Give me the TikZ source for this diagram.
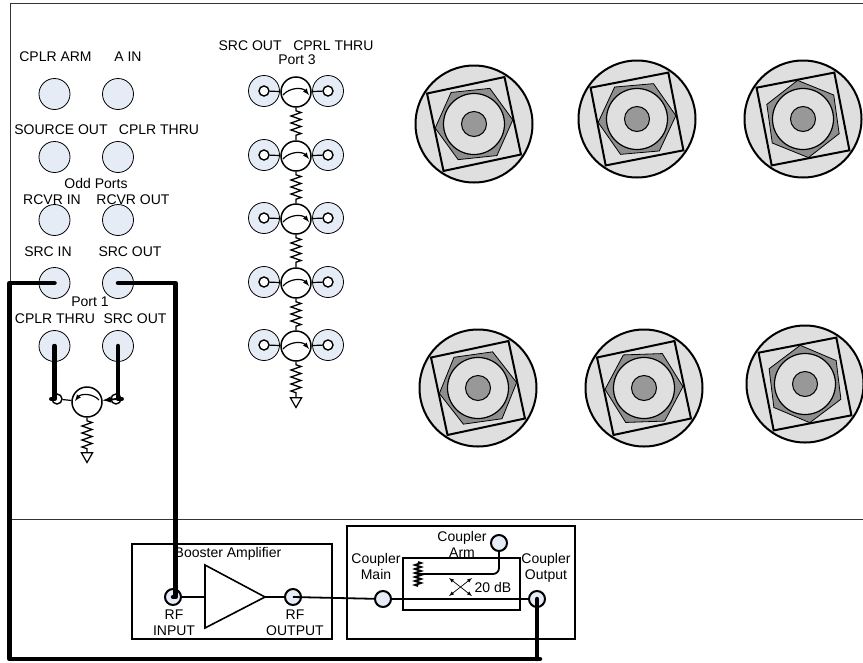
\documentclass[tikz,border=0pt]{standalone}
\usepackage{fontspec}
\setmainfont{Liberation Sans}
\usetikzlibrary{shapes.geometric,decorations.pathmorphing}
\definecolor{portfill}{HTML}{E6ECF6}
\definecolor{bigfill}{HTML}{DEDFDE}
\definecolor{nutfill}{HTML}{8E8E8E}
\definecolor{pinfill}{HTML}{989898}
\begin{document}
\begin{tikzpicture}
[x=1pt,y=-1pt,font=\fontsize{14}{16}\selectfont,
  framedecorate/.style={draw=black!80,line width=1pt},
  boxdecorate/.style={shape=rectangle,draw,line width=1.6pt,inner sep=0pt},
  portdecorate/.style={shape=circle,draw,line width=0.8pt,fill=portfill,inner sep=0pt,minimum size=31pt},
  smalldecorate/.style={shape=circle,draw,line width=1.4pt,fill=white,inner sep=0pt,minimum size=10pt},
  circdecorate/.style={shape=circle,draw,line width=1.5pt,fill=white,inner sep=0pt,minimum size=30pt},
  rfdecorate/.style={shape=circle,draw,line width=2pt,fill=portfill,inner sep=0pt,minimum size=16pt},
  gnddecorate/.style={shape=regular polygon,regular polygon sides=3,shape border rotate=180,draw,line width=1.2pt,inner sep=0pt,minimum size=13pt},
  linedecorate/.style={-,line width=1.2pt},
  arcdecorate/.style={-latex,line width=1.2pt},
  zigdecorate/.style={line width=1.3pt,decorate,decoration={zigzag,segment length=7,amplitude=5,pre length=3,post length=2}},
  wiredecorate/.style={-,line width=1.8pt},
  cabledecorate/.style={-,line width=4.5pt,line cap=round,line join=round},
  labeldecorate/.style={inner sep=0pt,align=center},
  outerdecorate/.style={shape=circle,draw,line width=2pt,fill=bigfill,inner sep=0pt,minimum size=117pt},
  nutdecorate/.style={shape=regular polygon,regular polygon sides=6,draw,line width=0.8pt,fill=nutfill,inner sep=0pt,minimum size=78pt},
  squaredecorate/.style={shape=regular polygon,regular polygon sides=4,draw,line width=2pt,inner sep=0pt,minimum size=112pt},
  ringdecorate/.style={shape=circle,draw,line width=1.2pt,fill=bigfill,inner sep=0pt,minimum size=61pt},
  pindecorate/.style={shape=circle,draw,line width=1pt,fill=pinfill,inner sep=0pt,minimum size=25pt}]
\useasboundingbox (0,0) rectangle (863,662);
%% panel outline
\coordinate (frametr) at (863,3);
\coordinate (frametl) at (10,3);
\coordinate (framebl) at (10,284);
\coordinate (panell) at (10,519);
\coordinate (panelr) at (863,519);
\draw[framedecorate] (frametr) -- (frametl) -- (framebl);
\draw[framedecorate] (panell) -- (panelr);
%% large connectors
\foreach \nodename/\x/\y/\nut/\sq in {
  a/474/124/6/12, b/637/119/5/11, c/803/119/38/11,
  d/478/388/8/12, e/644/388/2/12, f/805/384/37/11}
{
  \node (outer\nodename) at (\x,\y) [outerdecorate] {};
  \node (nut\nodename) at (\x,\y) [nutdecorate,shape border rotate=\nut] {};
  \node (square\nodename) at (\x,\y) [squaredecorate,shape border rotate=\sq] {};
  \node (ring\nodename) at (\x,\y) [ringdecorate] {};
  \node (pin\nodename) at (\x,\y) [pindecorate] {};
}
%% ports on the left
\foreach \nodename/\x/\y in {
  cplrarm/54.5/94, ain/118/94,
  sourceout/54.5/157, cplrthru/118/157,
  rcvrin/54.5/220, rcvrout/118/220,
  srcin/54.5/283, srcout/118/283,
  portathru/54.5/346, portaout/118/346}
{
  \node (\nodename) at (\x,\y) [portdecorate] {};
}
%% labels
\foreach \nodename/\x/\y/\name in {
  lcplrarm/55.5/57/CPLR ARM, lain/128/57/A IN,
  lsourceout/61/130/SOURCE OUT, lcplrthru/159/130/CPLR THRU,
  lodd/96/183/Odd Ports,
  lrcvrin/52/200/RCVR IN, lrcvrout/133/200/RCVR OUT,
  lsrcin/48/252/SRC IN, lsrcout/130/252/SRC OUT,
  lporta/90/302/Port 1,
  lportathru/55/319/CPLR THRU, lportaout/135/319/SRC OUT,
  ltop/296/46/SRC OUT\ \ \ CPRL THRU, lportc/297/60/Port 3,
  lbooster/228/554/Booster Amplifier,
  lrfin/174/623/RF\\INPUT, lrfout/295/623/RF\\OUTPUT,
  lmain/376/566/Coupler\\Main, larm/462/544/Coupler\\Arm,
  lcoupout/546/568/Coupler\\Output, ldb/493/587/20 dB}
{
  \node (\nodename) at (\x,\y) [labeldecorate] {\name};
}
%% port 3 column
\foreach \r/\y in {1/91, 2/155, 3/218, 4/282, 5/345}
{
  \node (left\r) at (264,\y) [portdecorate] {};
  \node (right\r) at (328,\y) [portdecorate] {};
  \node (sleft\r) at (264,\y) [smalldecorate] {};
  \node (sright\r) at (328,\y) [smalldecorate] {};
  \node (circ\r) at (296,\y+1) [circdecorate] {};
  \draw[linedecorate] (sleft\r) -- (circ\r);
  \draw[linedecorate] (sright\r) -- (circ\r);
  \draw[arcdecorate] (circ\r.center) ++(-13,3) to[bend left=50] ++(26,0);
}
\node (gndc) at (296,401) [gnddecorate] {};
\path
\foreach \startnode/\endnode in {circ1/circ2, circ2/circ3, circ3/circ4, circ4/circ5, circ5/gndc}
{
  (\startnode.south) edge[zigdecorate] (\endnode.north)
};
%% port 1 circulator
\node (sleftp) at (57,399) [smalldecorate] {};
\node (srightp) at (116,399) [smalldecorate] {};
\node (circp) at (87,402) [circdecorate] {};
\node (gndp) at (87,456) [gnddecorate] {};
\draw[linedecorate] (sleftp) -- (circp);
\draw[arcdecorate,line width=1.8pt] (srightp.center) -- (circp);
\draw[arcdecorate] (circp.center) ++(12,-2) to[bend right=50] ++(-24,1);
\draw[zigdecorate] (circp.south) -- (gndp.north);
%% booster amplifier
\node (boosterbox) at (232,591.5) [boxdecorate,minimum width=200pt,minimum height=95pt] {};
\node (rfin) at (173,597) [rfdecorate] {};
\node (rfout) at (293,597) [rfdecorate] {};
\coordinate (ampin) at (205,597);
\coordinate (ampout) at (265,597);
\coordinate (amptop) at (205,565);
\coordinate (ampbot) at (205,628);
\draw[boxdecorate] (amptop) -- (ampout) -- (ampbot) -- cycle;
\draw[wiredecorate] (rfin) -- (ampin);
\draw[wiredecorate] (ampout) -- (rfout);
%% coupler
\node (couplerbox) at (461,582.5) [boxdecorate,minimum width=228pt,minimum height=113pt] {};
\node (innerbox) at (461.5,584) [boxdecorate,minimum width=117pt,minimum height=52pt] {};
\node (coupmain) at (383,599) [rfdecorate] {};
\node (coupout) at (537,599) [rfdecorate] {};
\node (couparm) at (499,543) [rfdecorate] {};
\coordinate (armload) at (418,574);
\coordinate (loadtop) at (418,562);
\coordinate (loadbot) at (418,586);
\coordinate (crossa) at (449,578);
\coordinate (crossb) at (472,596);
\coordinate (crossc) at (472,578);
\coordinate (crossd) at (449,596);
\draw[wiredecorate,rounded corners=6pt] (couparm.south) |- (armload);
\draw[wiredecorate,decorate,decoration={zigzag,segment length=4,amplitude=3}] (loadtop) -- (loadbot);
\draw[latex-latex,line width=0.7pt] (crossa) -- (crossb);
\draw[latex-latex,line width=0.7pt] (crossc) -- (crossd);
\draw[wiredecorate] (rfout.center) -- (coupmain);
\draw[wiredecorate] (coupmain) -- (coupout);
%% cables
\coordinate (cablebl) at (9.5,659);
\coordinate (cablebr) at (540,659);
\coordinate (cabletr) at (175.5,283);
\draw[cabledecorate] (srcin.center) -| (cablebl) -- (cablebr);
\draw[cabledecorate] (coupout.center) -- (coupout |- cablebr);
\draw[cabledecorate] (srcout.center) -- (cabletr) -- (cabletr |- rfin.center) -- (rfin.center);
\draw[cabledecorate] (portathru.center) |- (sleftp);
\draw[cabledecorate] (portaout.center) |- (srightp);
\end{tikzpicture}
\end{document}
